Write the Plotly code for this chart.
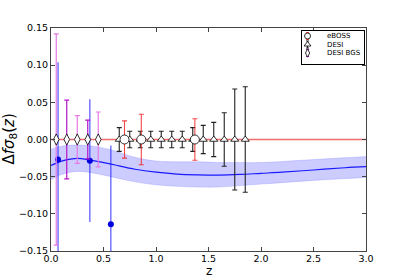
import plotly.graph_objects as go

# ---- data ----
z_model = [0.0, 0.1, 0.2, 0.25, 0.35, 0.5, 0.6, 0.8, 1.0, 1.2, 1.4, 1.6, 1.8, 2.0, 2.2, 2.5, 2.8, 3.0]
dfs8_model = [-0.035, -0.029, -0.026, -0.0255, -0.027, -0.031, -0.034, -0.040, -0.044, -0.0465,
              -0.0475, -0.0478, -0.047, -0.0455, -0.044, -0.041, -0.038, -0.0365]
band_z = [0.0, 0.1, 0.25, 0.4, 0.6, 0.8, 1.0, 1.2, 1.4, 1.6, 1.8, 2.0, 2.5, 3.0]
band_upper = [-0.013, -0.009, -0.0075, -0.009, -0.015, -0.024, -0.029, -0.030, -0.030, -0.031,
              -0.031, -0.031, -0.027, -0.023]
band_lower = [-0.054, -0.047, -0.043, -0.045, -0.051, -0.057, -0.061, -0.063, -0.064, -0.064,
              -0.062, -0.060, -0.055, -0.051]

meas_z = [0.067, 0.37, 0.57]
meas_dfs8 = [-0.027, -0.0285, -0.114]
meas_err = [0.131, 0.0825, 0.106]

eboss_z = [0.70, 0.86, 1.37]
eboss_err = [0.025, 0.034, 0.028]

desi_z = [0.65, 0.75, 0.85, 0.95, 1.05, 1.15, 1.25, 1.35, 1.45, 1.55, 1.65, 1.75, 1.85]
desi_err = [0.016, 0.011, 0.011, 0.011, 0.011, 0.011, 0.011, 0.016, 0.019, 0.023, 0.036, 0.068, 0.071]

bgs_z = [0.05, 0.15, 0.25, 0.35, 0.45]
bgs_err = [0.142, 0.053, 0.032, 0.026, 0.037]
bgs_colors = ["#e67ae6", "#b414c8", "#e67ae6", "#b414c8", "#e67ae6"]

ref_level = 0.0
series_names = ["eBOSS", "DESI", "DESI BGS"]

x_ticks = [0.0, 0.5, 1.0, 1.5, 2.0, 2.5, 3.0]
y_ticks = [-0.15, -0.10, -0.05, 0.00, 0.05, 0.10, 0.15]

# colours for the three survey series
eboss_col = "rgba(240,40,40,0.85)"
desi_col = "#222222"
bgs_col = "#b414c8"

fig = go.Figure()

# confidence band
fig.add_trace(go.Scatter(x=band_z, y=band_upper, mode="lines",
                         line=dict(width=0.6, color="rgba(90,90,255,0.35)", shape="spline"),
                         showlegend=False, hoverinfo="skip"))
fig.add_trace(go.Scatter(x=band_z, y=band_lower, mode="lines",
                         line=dict(width=0.6, color="rgba(90,90,255,0.35)", shape="spline"),
                         fill="tonexty", fillcolor="rgba(0,0,255,0.2)", showlegend=False, hoverinfo="skip"))
fig.add_trace(go.Scatter(x=z_model, y=dfs8_model, mode="lines",
                         line=dict(width=1.2, color="#1a1aff", shape="spline"), showlegend=False))

fig.add_hline(y=ref_level, line=dict(color="rgba(240,60,60,0.75)", width=1.5), layer="below")

# measurements (blue)
fig.add_trace(go.Scatter(x=meas_z, y=meas_dfs8, mode="markers",
                         marker=dict(color="#0000dd", size=6, symbol="circle", line=dict(width=0)),
                         error_y=dict(type="data", array=meas_err, color="rgba(40,40,255,0.8)", thickness=1.2, width=0),
                         showlegend=False))

# DESI BGS
for zz, ee, cc in zip(bgs_z, bgs_err, bgs_colors):
    fig.add_trace(go.Scatter(x=[zz], y=[ref_level], mode="markers",
                             marker=dict(color="white", size=8, symbol="diamond-tall", line=dict(width=0.8, color="black")),
                             error_y=dict(type="data", array=[ee], color=cc, thickness=1.2, width=2.5),
                             showlegend=False))

# DESI
fig.add_trace(go.Scatter(x=desi_z, y=[ref_level] * len(desi_z), mode="markers", showlegend=False,
                         marker=dict(color="white", size=7, symbol="triangle-up", line=dict(width=0.8, color="black")),
                         error_y=dict(type="data", array=desi_err, color=desi_col, thickness=1.1, width=2.5)))

# eBOSS
fig.add_trace(go.Scatter(x=eboss_z, y=[ref_level] * len(eboss_z), mode="markers", showlegend=False,
                         marker=dict(color="white", size=9, symbol="circle", line=dict(width=0.8, color="black")),
                         error_y=dict(type="data", array=eboss_err, color=eboss_col, thickness=1.1, width=2.5)))

# ---- legend box drawn on a small overlay axis (1 unit = 1 px) ----
leg_x0, leg_x1 = 0.797, 0.9937
leg_y0, leg_y1 = 0.8386, 0.9865
leg_rows = [28, 19.5, 11]
leg_symbols = ["circle", "triangle-up", "diamond-tall"]
leg_sizes = [6, 6, 6]
leg_cols = [eboss_col, desi_col, bgs_col]
for row, sym, sz, col in zip(leg_rows, leg_symbols, leg_sizes, leg_cols):
    fig.add_trace(go.Scatter(x=[5.5], y=[row], mode="markers", xaxis="x2", yaxis="y2", showlegend=False,
                             marker=dict(color="white", size=sz, symbol=sym, line=dict(width=0.8, color="black")),
                             error_y=dict(type="constant", value=3.5, color=col, thickness=1, width=1.5),
                             hoverinfo="skip"))

axis_common = dict(showline=True, linecolor="#444", linewidth=1, mirror="allticks", ticks="inside",
                   ticklen=4, tickcolor="#444", showgrid=False, zeroline=False,
                   tickfont=dict(family="DejaVu Sans", size=9.5, color="black"))

legend_axis = dict(showline=True, linecolor="black", linewidth=1, mirror=True, ticks="",
                   showticklabels=False, showgrid=False, zeroline=False, fixedrange=True)

annotations = [
    dict(text="Δ<i>fσ</i><sub>8</sub>(<i>z</i>)", xref="paper", yref="paper", x=-0.133, y=0.5,
         textangle=-90, showarrow=False, font=dict(size=15, family="DejaVu Sans"),
         xanchor="center", yanchor="middle"),
    dict(text="z", xref="paper", yref="paper", x=0.5, y=-0.13, showarrow=False,
         font=dict(size=12, family="DejaVu Sans"), xanchor="center", yanchor="bottom"),
]
for row, name in zip(leg_rows, series_names):
    annotations.append(dict(text=name, xref="x2", yref="y2", x=23, y=row, showarrow=False,
                            xanchor="left", yanchor="middle", font=dict(size=7, family="DejaVu Sans", color="black")))

fig.update_layout(
    width=407, height=280,
    margin=dict(l=51, r=41, t=28, b=29),
    paper_bgcolor="white", plot_bgcolor="white",
    font=dict(family="DejaVu Sans", color="black"),
    showlegend=False,
    xaxis=dict(range=[0, 3], tickvals=x_ticks, tickformat=".1f", ticklabelstandoff=-1, **axis_common),
    yaxis=dict(range=[-0.15, 0.15], tickvals=y_ticks, tickformat=".2f", **axis_common),
    xaxis2=dict(domain=[leg_x0, leg_x1], range=[0, 62], anchor="y2", **legend_axis),
    yaxis2=dict(domain=[leg_y0, leg_y1], range=[0, 33], anchor="x2", **legend_axis),
    annotations=annotations,
)

fig.write_html("out.html", config={"displayModeBar": False},
               post_script="document.body.style.margin='0';document.body.style.padding='0';")
